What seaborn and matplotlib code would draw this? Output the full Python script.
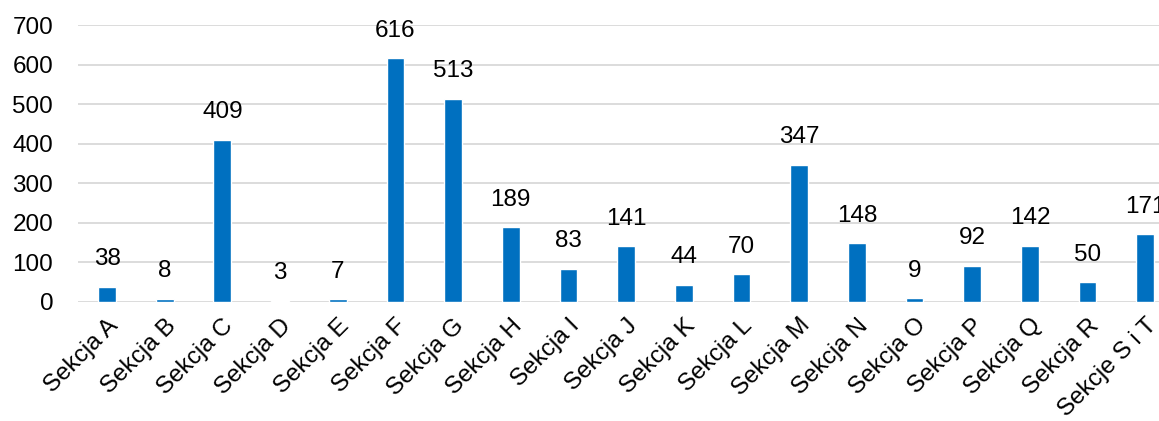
import matplotlib
matplotlib.use("Agg")
import matplotlib.pyplot as plt
import seaborn as sns
import pandas as pd

categories = ["Sekcja A", "Sekcja B", "Sekcja C", "Sekcja D", "Sekcja E", "Sekcja F",
              "Sekcja G", "Sekcja H", "Sekcja I", "Sekcja J", "Sekcja K", "Sekcja L",
              "Sekcja M", "Sekcja N", "Sekcja O", "Sekcja P", "Sekcja Q", "Sekcja R",
              "Sekcje S i T"]
values = [38, 8, 409, 3, 7, 616, 513, 189, 83, 141, 44, 70, 347, 148, 9, 92, 142, 50, 171]
yticks = [0, 100, 200, 300, 400, 500, 600, 700]

sns.set_theme(style="white")
plt.rcParams['font.family'] = ['Liberation Sans', 'DejaVu Sans']

df = pd.DataFrame({"cat": categories, "val": values})

fig = plt.figure(figsize=(11.59, 4.21), dpi=100)
ax = fig.add_axes([0.0675, 0.2827, 0.9455, 0.6579])
sns.barplot(data=df, x="cat", y="val", color="#0070C0", saturation=1, width=0.31, ax=ax)

ax.set_ylim(0, 700)
ax.set_yticks(yticks)
ax.set_xlim(-0.5, len(categories) - 0.5)
ax.yaxis.grid(True, color="#d9d9d9", linewidth=1.3)
ax.set_axisbelow(True)
for s in ax.spines.values():
    s.set_visible(False)
ax.set_xlabel("")
ax.set_ylabel("")
ax.tick_params(axis="y", length=0, pad=18, labelsize=17.5, labelcolor="black")
ax.tick_params(axis="x", length=0, pad=9, labelsize=17.5, labelcolor="black")
for lbl in ax.get_xticklabels():
    lbl.set_rotation(45)
    lbl.set_ha("right")
    lbl.set_rotation_mode("anchor")

ax.bar_label(ax.containers[0], labels=[str(v) for v in values], padding=12, fontsize=17.5, color="black")

fig.savefig("out.png", dpi=100)
